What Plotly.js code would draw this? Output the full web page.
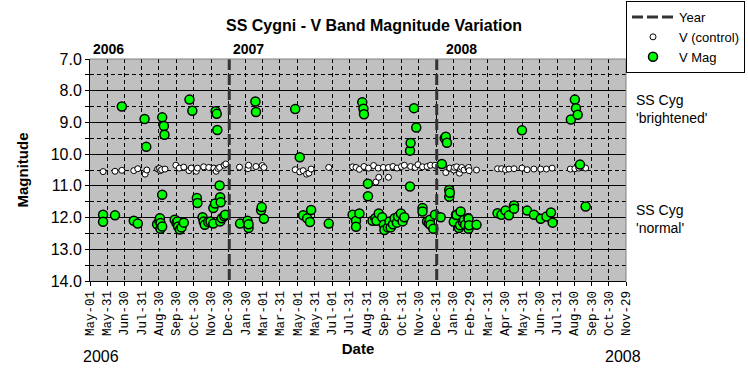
<!DOCTYPE html>
<html>
<head>
<meta charset="utf-8">
<script src="https://cdn.plot.ly/plotly-3.0.1.min.js"></script>
<style>html,body{margin:0;padding:0;background:#fff;}#chart{width:748px;height:384px;}</style>
</head>
<body>
<div id="chart"></div>
<script>
// Tick positions (dates) and their labels on the x axis
var tickDates = ['2006-05-01','2006-05-31','2006-06-30','2006-07-31','2006-08-30','2006-09-30','2006-10-30','2006-11-30','2006-12-30','2007-01-30','2007-03-01','2007-03-31','2007-05-01','2007-05-31','2007-07-01','2007-07-31','2007-08-31','2007-09-30','2007-10-31','2007-11-30','2007-12-31','2008-01-30','2008-02-29','2008-03-31','2008-04-30','2008-05-31','2008-06-30','2008-07-31','2008-08-30','2008-09-30','2008-10-30','2008-11-29'];
var tickLabels = ['May-01','May-31','Jun-30','Jul-31','Aug-30','Sep-30','Oct-30','Nov-30','Dec-30','Jan-30','Mar-01','Mar-31','May-01','May-31','Jul-01','Jul-31','Aug-31','Sep-30','Oct-31','Nov-30','Dec-31','Jan-30','Feb-29','Mar-31','Apr-30','May-31','Jun-30','Jul-31','Aug-30','Sep-30','Oct-30','Nov-29'];

// Year boundaries
var yearDates = ['2007-01-01','2007-01-01',null,'2008-01-01','2008-01-01'];
var yearMags  = [7,14,null,7,14];

// V (control) star
var ctrlDates = ['2006-05-24','2006-06-14','2006-06-26','2006-07-17','2006-07-24','2006-08-06','2006-08-09','2006-08-28','2006-08-31','2006-09-02','2006-09-04','2006-09-10','2006-09-29','2006-10-05','2006-10-13','2006-10-22','2006-10-26','2006-11-04','2006-11-06','2006-11-17','2006-11-26','2006-12-05','2006-12-09','2006-12-12','2006-12-15','2006-12-23','2006-12-26',
'2007-01-19','2007-02-03','2007-02-04','2007-02-17','2007-02-28','2007-03-03','2007-04-27','2007-05-05','2007-05-11','2007-05-17','2007-05-21','2007-05-25','2007-06-25','2007-08-06','2007-08-12','2007-08-18','2007-08-26','2007-09-03','2007-09-12','2007-09-16','2007-09-20','2007-09-21','2007-09-29','2007-10-08','2007-10-08','2007-10-16','2007-10-23','2007-10-31','2007-11-05','2007-11-16','2007-11-24','2007-11-29','2007-12-07','2007-12-15','2007-12-21','2007-12-29',
'2008-01-17','2008-01-23','2008-01-24','2008-01-31','2008-02-01','2008-02-05','2008-02-10','2008-02-12','2008-02-14','2008-02-18','2008-02-25','2008-02-26','2008-02-27','2008-03-11','2008-04-17','2008-04-24','2008-05-01','2008-05-07','2008-05-16','2008-05-30','2008-06-08','2008-06-20','2008-07-02','2008-07-12','2008-07-22','2008-08-23','2008-08-31','2008-09-07','2008-09-19'];
var ctrlMags = [10.55,10.54,10.51,10.52,10.46,10.63,10.50,10.47,10.45,10.52,10.49,10.47,10.35,10.44,10.41,10.52,10.44,10.54,10.44,10.40,10.42,10.44,10.54,10.45,10.42,10.35,10.31,
10.41,10.46,10.35,10.39,10.36,10.42,10.49,10.56,10.52,10.63,10.60,10.47,10.42,10.40,10.42,10.48,10.39,10.44,10.36,10.88,10.44,10.73,10.42,10.42,10.73,10.39,10.44,10.39,10.35,10.39,10.42,10.33,10.40,10.39,10.35,10.35,
10.58,10.45,10.44,10.50,10.42,10.40,10.60,10.47,10.42,10.50,10.45,10.42,10.52,10.50,10.46,10.46,10.49,10.47,10.46,10.44,10.49,10.47,10.47,10.47,10.44,10.47,10.46,10.44,10.44];

// SS Cygni V magnitude
var vDates = ['2006-05-24','2006-05-24','2006-06-14','2006-06-26','2006-07-17','2006-07-24','2006-08-05','2006-08-08','2006-08-27','2006-08-31','2006-09-01','2006-09-02','2006-09-02','2006-09-05','2006-09-05','2006-09-05','2006-09-08','2006-09-09','2006-09-27','2006-09-30','2006-10-02','2006-10-03','2006-10-06','2006-10-09','2006-10-13','2006-10-23','2006-10-28','2006-11-05','2006-11-06','2006-11-15','2006-11-17','2006-11-19','2006-11-25','2006-11-29','2006-12-04','2006-12-04','2006-12-07','2006-12-08','2006-12-10','2006-12-11','2006-12-15','2006-12-16','2006-12-16','2006-12-17','2006-12-19','2006-12-23','2006-12-25',
'2007-01-20','2007-02-02','2007-02-04','2007-02-04','2007-02-16','2007-02-17','2007-02-26','2007-02-27','2007-03-03','2007-04-27','2007-05-05','2007-05-11','2007-05-18','2007-05-23','2007-05-25','2007-06-25','2007-08-06','2007-08-12','2007-08-12','2007-08-18','2007-08-23','2007-08-25','2007-08-26','2007-09-02','2007-09-02','2007-09-10','2007-09-15','2007-09-17','2007-09-21','2007-09-27','2007-09-30','2007-10-01','2007-10-07','2007-10-10','2007-10-12','2007-10-16','2007-10-19','2007-10-23','2007-10-25','2007-10-30','2007-11-02','2007-11-05','2007-11-15','2007-11-15','2007-11-16','2007-11-22','2007-11-26','2007-12-07','2007-12-07','2007-12-15','2007-12-18','2007-12-20','2007-12-21','2007-12-26','2007-12-29',
'2008-01-08','2008-01-10','2008-01-15','2008-01-17','2008-01-19','2008-01-23','2008-01-23','2008-01-24','2008-01-31','2008-02-04','2008-02-05','2008-02-09','2008-02-11','2008-02-12','2008-02-16','2008-02-18','2008-02-20','2008-02-25','2008-02-26','2008-02-26','2008-02-27','2008-03-11','2008-04-17','2008-04-24','2008-05-01','2008-05-07','2008-05-16','2008-05-16','2008-05-30','2008-06-08','2008-06-20','2008-07-02','2008-07-12','2008-07-20','2008-07-23','2008-08-24','2008-08-31','2008-09-02','2008-09-05','2008-09-09','2008-09-19'];
var vMags = [11.91,12.13,11.93,8.50,12.10,12.19,8.89,9.77,12.21,12.10,12.02,12.17,12.35,12.28,11.28,8.84,9.11,9.39,12.07,12.17,12.12,12.28,12.38,12.31,12.16,8.28,8.63,11.38,11.54,11.99,12.12,12.23,12.14,12.12,12.19,11.70,11.56,8.65,8.73,9.24,10.99,11.36,12.12,11.52,12.02,11.96,11.91,
12.19,12.10,12.33,12.21,8.34,8.67,11.77,11.67,12.04,8.58,10.10,11.93,12.02,12.14,11.76,12.19,11.91,12.10,12.29,11.87,8.36,8.57,8.74,10.93,11.33,12.10,12.02,12.10,11.87,11.99,12.23,12.39,12.31,12.12,12.31,12.21,12.02,12.16,11.97,11.87,12.12,11.99,9.89,11.02,9.65,8.55,9.16,11.70,11.81,12.12,12.18,12.07,12.23,12.35,11.91,
11.99,10.31,9.50,9.45,9.64,11.13,11.34,11.22,12.13,11.91,11.92,12.33,12.24,11.81,12.14,12.08,12.23,12.02,12.35,12.04,12.24,12.23,11.86,11.91,11.78,11.93,11.62,11.72,9.25,11.78,11.91,12.04,11.97,11.84,12.16,8.91,8.28,8.55,8.76,10.33,11.65];

var traces = [
  {type:'scatter', mode:'markers', name:'V (control)', x:ctrlDates, y:ctrlMags, legendrank:2,
   marker:{symbol:'circle', size:6, color:'#ffffff', line:{color:'#000000', width:1}}},
  {type:'scatter', mode:'markers', name:'V Mag', x:vDates, y:vMags, legendrank:3,
   marker:{symbol:'circle', size:9, color:'#00ff00', line:{color:'#000000', width:1.5}}},
  {type:'scatter', mode:'lines', name:'Year', x:yearDates, y:yearMags, legendrank:1,
   line:{color:'#333333', width:3, dash:'11px,4px'}, connectgaps:false}
];

var base = 'Liberation Sans, Arial, sans-serif';
var layout = {
  width:748, height:384,
  margin:{l:90, r:109, t:59, b:103, pad:0},
  paper_bgcolor:'#ffffff', plot_bgcolor:'#c0c0c0',
  font:{family:base, color:'#000000', size:14},
  hovermode:false,
  title:{text:'SS Cygni - V Band Magnitude Variation', x:0.5, xanchor:'center', y:0.935, yanchor:'middle',
         font:{family:base, size:16, weight:'bold', color:'#000000'}},
  xaxis:{type:'date', range:['2006-05-01','2008-11-29'], tickmode:'array', tickvals:tickDates, ticktext:tickLabels,
         tickangle:-90, tickfont:{family:'Liberation Mono, Courier New, monospace', size:12.5, color:'#000000'},
         ticks:'outside', ticklen:4, tickcolor:'#000000', showgrid:true, gridcolor:'#000000', gridwidth:1, griddash:'4px,3px',
         showline:true, linecolor:'#000000', linewidth:1, zeroline:false,
         title:{text:'Date', standoff:8, font:{family:base, size:15, weight:'bold', color:'#000000'}}},
  yaxis:{range:[14,7], dtick:1, tick0:7, tickformat:'.1f', tickfont:{family:base, size:16, color:'#000000'},
         ticks:'outside', ticklen:4, tickcolor:'#000000', showgrid:true, gridcolor:'#000000', gridwidth:1,
         showline:true, linecolor:'#000000', linewidth:1, zeroline:false,
         minor:{dtick:0.5, tick0:7, showgrid:true, gridcolor:'#000000', gridwidth:1, griddash:'4px,3px', ticks:'outside', ticklen:4, tickcolor:'#000000'},
         title:{text:'Magnitude', standoff:18, font:{family:base, size:15, weight:'bold', color:'#000000'}}},
  showlegend:true,
  legend:{xref:'container', yref:'container', x:626/748, y:1-1/384, xanchor:'left', yanchor:'top',
          bgcolor:'#ffffff', bordercolor:'#000000', borderwidth:1, font:{family:base, size:13, color:'#000000'},
          tracegroupgap:0, itemwidth:42},
  shapes:[
    {type:'line', xref:'paper', yref:'paper', x0:0, x1:1, y0:1, y1:1, line:{color:'#808080', width:1}},
    {type:'line', xref:'paper', yref:'paper', x0:1, x1:1, y0:0, y1:1, line:{color:'#808080', width:1}}
  ],
  annotations:[
    {text:'2006', xref:'x', x:'2006-05-01', xanchor:'left', xshift:1, yref:'paper', y:1, yanchor:'middle', yshift:10, showarrow:false, font:{family:base, size:14, weight:'bold'}},
    {text:'2007', xref:'x', x:'2007-01-01', xanchor:'left', xshift:2, yref:'paper', y:1, yanchor:'middle', yshift:10, showarrow:false, font:{family:base, size:14, weight:'bold'}},
    {text:'2008', xref:'x', x:'2008-01-01', xanchor:'left', xshift:7, yref:'paper', y:1, yanchor:'middle', yshift:10, showarrow:false, font:{family:base, size:14, weight:'bold'}},
    {text:'2006', xref:'paper', x:0, xanchor:'left', xshift:-9, yref:'paper', y:0, yanchor:'middle', yshift:-75, showarrow:false, font:{family:base, size:16}},
    {text:'2008', xref:'paper', x:1, xanchor:'center', xshift:-3, yref:'paper', y:0, yanchor:'middle', yshift:-75, showarrow:false, font:{family:base, size:16}},
    {text:"SS Cyg<br>'brightened'", xref:'paper', x:1, xanchor:'left', xshift:8, yref:'y', y:8.58, yanchor:'middle', align:'left', showarrow:false, font:{family:base, size:14}},
    {text:"SS Cyg<br>'normal'", xref:'paper', x:1, xanchor:'left', xshift:8, yref:'y', y:12.06, yanchor:'middle', align:'left', showarrow:false, font:{family:base, size:14}}
  ]
};

Plotly.newPlot('chart', traces, layout, {displayModeBar:false, staticPlot:true});
</script>
</body>
</html>
